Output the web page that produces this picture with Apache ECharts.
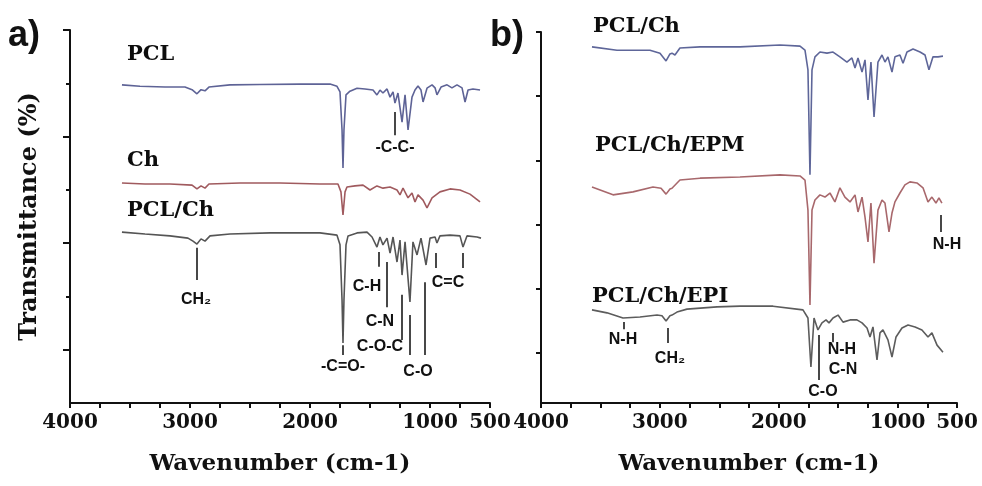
<!DOCTYPE html>
<html>
<head>
<meta charset="utf-8">
<script src="https://cdn.jsdelivr.net/npm/echarts@6/dist/echarts.min.js"></script>
<style>
  html, body { margin: 0; padding: 0; background: #fff; }
  #main { width: 982px; height: 486px; }
</style>
</head>
<body>
<div id="main"></div>
<script>
// FTIR spectra, [wavenumber (cm-1), transmittance (a.u., traces offset)]
// panel a
var pcl = [[3567,85.3],[3417,84.9],[3208,84.7],[3042,84.7],[2983,84.0],[2942,82.9],[2908,84.0],[2875,83.7],[2842,84.7],[2667,85.3],[2417,85.4],[2083,85.5],[1833,85.5],[1775,84.9],[1750,83.4],[1733,73.2],[1725,63.0],[1717,73.2],[1700,82.6],[1667,83.6],[1608,84.4],[1542,84.2],[1475,83.9],[1442,82.6],[1417,83.9],[1392,83.1],[1358,84.2],[1333,82.0],[1308,83.4],[1292,80.4],[1267,83.1],[1233,75.3],[1208,82.6],[1183,73.2],[1150,82.0],[1125,83.9],[1100,85.0],[1075,83.9],[1058,80.7],[1025,84.4],[983,85.3],[958,84.5],[942,82.6],[908,84.7],[858,85.3],[817,84.5],[775,85.3],[733,84.5],[708,80.7],[683,83.9],[642,84.2],[583,83.9]];
var ch = [[3567,59.0],[3375,58.7],[3167,58.7],[2983,58.4],[2942,57.4],[2908,58.2],[2875,57.6],[2842,58.7],[2583,59.0],[2250,59.0],[1917,58.7],[1767,58.7],[1742,56.6],[1725,50.4],[1708,56.6],[1692,57.9],[1625,58.2],[1558,58.4],[1500,57.1],[1442,58.2],[1392,57.6],[1333,57.9],[1275,57.1],[1250,55.8],[1225,57.6],[1183,55.0],[1150,56.3],[1125,53.9],[1100,55.8],[1058,54.4],[1025,52.3],[983,55.0],[917,56.6],[833,57.4],[750,57.1],[667,56.0],[583,53.9]];
var pclCh = [[3567,45.8],[3375,45.3],[3167,44.8],[3017,44.2],[2975,43.4],[2942,42.6],[2908,44.0],[2875,43.4],[2833,44.8],[2667,45.3],[2333,45.6],[1917,45.6],[1775,45.0],[1750,42.4],[1733,27.6],[1725,16.1],[1717,27.6],[1700,42.4],[1683,44.8],[1608,45.6],[1525,45.8],[1483,44.5],[1442,41.8],[1417,44.5],[1392,42.4],[1358,44.2],[1333,40.2],[1308,44.5],[1275,37.8],[1250,43.7],[1233,34.3],[1208,43.2],[1167,27.1],[1142,43.2],[1108,39.7],[1075,44.2],[1033,37.0],[1000,44.2],[958,44.5],[942,42.9],[917,44.8],[833,45.0],[750,44.8],[725,41.8],[692,44.8],[608,44.5],[575,44.2]];

// panel b
var bPclCh = [[3571,96.0],[3361,95.1],[3083,95.1],[2999,94.3],[2948,92.2],[2915,94.1],[2898,94.3],[2873,93.8],[2831,95.7],[2662,96.0],[2326,96.0],[1989,96.5],[1821,96.2],[1779,95.1],[1754,89.8],[1737,61.5],[1720,89.8],[1695,93.3],[1653,94.6],[1594,94.3],[1543,94.6],[1485,93.3],[1426,91.9],[1384,93.0],[1358,90.3],[1333,93.0],[1299,89.2],[1274,92.5],[1249,81.7],[1224,91.9],[1198,77.1],[1165,91.9],[1131,93.8],[1106,91.9],[1081,93.3],[1047,89.2],[1022,93.3],[980,93.8],[954,91.6],[921,94.6],[870,95.4],[811,94.6],[769,93.8],[736,89.8],[702,93.3],[660,93.3],[618,93.5]];
var bEpm = [[3571,58.2],[3394,56.1],[3226,56.9],[3058,58.2],[2990,57.9],[2948,56.3],[2915,57.7],[2898,57.9],[2831,60.1],[2662,60.6],[2326,60.9],[1989,61.5],[1821,61.2],[1779,60.1],[1754,52.0],[1737,26.4],[1720,52.0],[1695,54.7],[1653,56.1],[1611,55.5],[1569,56.6],[1527,54.2],[1485,58.0],[1443,55.5],[1400,54.2],[1358,56.1],[1333,51.5],[1299,55.5],[1274,50.1],[1249,43.4],[1224,53.9],[1198,37.7],[1165,52.0],[1131,54.7],[1106,53.9],[1072,46.1],[1047,51.2],[1022,54.2],[980,56.6],[938,58.8],[896,59.6],[837,59.3],[786,58.0],[744,54.2],[711,55.5],[677,53.9],[652,55.3],[627,53.9]];
var bEpi = [[3571,25.1],[3445,24.3],[3310,22.9],[3167,23.2],[3024,23.7],[2982,23.5],[2948,22.1],[2915,23.5],[2898,23.7],[2856,24.5],[2772,25.3],[2519,25.9],[2326,26.1],[2048,26.1],[1796,25.1],[1754,22.9],[1729,9.7],[1703,22.9],[1670,19.7],[1636,21.6],[1602,22.4],[1577,21.6],[1543,22.9],[1501,23.7],[1459,21.8],[1400,22.4],[1342,22.4],[1299,21.6],[1257,20.2],[1232,17.8],[1207,20.5],[1173,11.6],[1148,18.9],[1123,19.7],[1081,17.0],[1047,12.4],[1013,17.8],[963,20.2],[912,21.0],[853,20.5],[795,19.7],[744,17.8],[711,18.9],[668,15.6],[618,13.7]];

// text and peak markers: [text, wavenumber, T]  /  [wavenumber, T from, T to]
var aNames = [['PCL',3525,93.3],['Ch',3525,65.1],['PCL/Ch',3525,51.7]];
var aPeaks = [['-C-C-',1292,68.4],['CH₂',2950,27.6],['C-H',1525,31.1],['C-N',1417,21.7],['C-O-C',1417,15.0],['-C=O-',1725,9.7],['C-O',1100,8.3],['C=C',850,32.2]];
var aMarks = [[2942,41.6,33.0],[1725,15.5,12.9],[1425,40.5,36.5],[1358,37.8,25.7],[1233,29.0,16.9],[1167,23.6,12.9],[1042,32.4,12.9],[950,40.2,36.2],[725,40.2,36.2],[1292,78.0,71.8]];
var bNames = [['PCL/Ch',3563,101.6],['PCL/Ch/EPM',3546,69.5],['PCL/Ch/EPI',3571,28.8]];
var bPeaks = [['N-H',584,42.6],['N-H',3310,17.0],['CH₂',2915,12.1],['C-O',1628,3.2],['N-H',1468,14.3],['C-N',1459,8.9]];
var bMarks = [[635,50.7,46.1],[3302,21.8,19.9],[2932,20.2,16.2],[1661,18.3,6.2],[1543,18.9,16.4]];

// axis ticks
var xTickLabels = [4000, 3000, 2000, 1000, 500];
var aMajorTicks = [100/7, 300/7, 500/7, 100];
var aMinorTicks = [200/7, 400/7, 600/7];
var bTicks = [13.5, 30.8, 48.1, 65.4, 82.7, 100];

var serif = 'DejaVu Serif';
var sans = 'Liberation Sans';

function xAxis(grid) {
  return {
    type: 'value', gridIndex: grid, inverse: true, min: 500, max: 4000, interval: 250,
    name: 'Wavenumber (cm-1)', nameLocation: 'middle', nameGap: 50,
    nameTextStyle: { fontFamily: serif, fontWeight: 'bold', fontSize: 23, color: '#111' },
    axisLine: { onZero: false, lineStyle: { color: '#111', width: 2 } },
    axisTick: { length: 5, lineStyle: { color: '#111', width: 2 } },
    axisLabel: {
      margin: 10, fontFamily: serif, fontWeight: 'bold', fontSize: 20, color: '#111',
      formatter: function (v) { return xTickLabels.indexOf(v) >= 0 ? String(v) : ''; }
    },
    splitLine: { show: false }
  };
}

function yAxis(grid, ticks, len, withLine, name) {
  return {
    type: 'value', gridIndex: grid, min: 0, max: 100, position: 'left', offset: 0,
    name: name || '', nameLocation: 'middle', nameGap: 28,
    nameTextStyle: { fontFamily: serif, fontWeight: 'bold', fontSize: 24, color: '#111' },
    axisLine: { show: withLine, lineStyle: { color: '#111', width: 2 } },
    axisTick: { show: true, customValues: ticks, length: len, lineStyle: { color: '#111', width: 2 } },
    axisLabel: { show: false },
    splitLine: { show: false }
  };
}

function trace(data, color, xi, yi) {
  return {
    type: 'line', data: data, xAxisIndex: xi, yAxisIndex: yi,
    showSymbol: false, symbol: 'none', silent: true,
    lineStyle: { color: color, width: 1.6 }
  };
}

function texts(items, xi, yi, style, align) {
  return {
    type: 'scatter', xAxisIndex: xi, yAxisIndex: yi, symbolSize: 0, clip: false, silent: true,
    itemStyle: { opacity: 1 },
    data: items.map(function (d) { return { name: d[0], value: [d[1], d[2]] }; }),
    label: Object.assign({
      show: true, position: [0, 0], align: align, verticalAlign: 'middle', opacity: 1,
      formatter: function (p) { return p.name; }
    }, style)
  };
}

function marks(items, xi, yi) {
  return {
    type: 'scatter', xAxisIndex: xi, yAxisIndex: yi, data: [], silent: true,
    markLine: {
      silent: true, symbol: ['none', 'none'], animation: false,
      label: { show: false },
      lineStyle: { color: '#1a1a1a', width: 1.6, type: 'solid', opacity: 1 },
      data: items.map(function (m) { return [{ coord: [m[0], m[1]] }, { coord: [m[0], m[2]] }]; })
    }
  };
}

var nameStyle = { fontFamily: serif, fontWeight: 'bold', fontSize: 21, color: '#0d0d0d' };
var peakStyle = { fontFamily: sans + ', DejaVu Sans', fontWeight: 'bold', fontSize: 16, color: '#111' };

var chart = echarts.init(document.getElementById('main'));
chart.setOption({
  animation: false,
  backgroundColor: '#fff',
  grid: [
    { left: 70, top: 30, width: 420, height: 373 },
    { left: 541, top: 32, width: 416, height: 371 }
  ],
  xAxis: [xAxis(0), xAxis(1)],
  yAxis: [
    yAxis(0, aMajorTicks, 7, true, 'Transmittance (%)'),
    yAxis(0, aMinorTicks, 4, false),
    yAxis(1, bTicks, 5, true)
  ],
  graphic: [
    { type: 'text', left: 8, top: 18, style: { text: 'a)', font: 'bold 36px "Liberation Sans"', fill: '#111' } },
    { type: 'text', left: 490, top: 18, style: { text: 'b)', font: 'bold 36px "Liberation Sans"', fill: '#111' } }
  ],
  series: [
    trace(pcl, '#5e6396', 0, 0),
    trace(ch, '#a05a5e', 0, 0),
    trace(pclCh, '#555555', 0, 0),
    trace(bPclCh, '#5e6699', 1, 2),
    trace(bEpm, '#a8686c', 1, 2),
    trace(bEpi, '#5c5c5c', 1, 2),
    marks(aMarks, 0, 0),
    marks(bMarks, 1, 2),
    texts(aNames, 0, 0, nameStyle, 'left'),
    texts(bNames, 1, 2, nameStyle, 'left'),
    texts(aPeaks, 0, 0, peakStyle, 'center'),
    texts(bPeaks, 1, 2, peakStyle, 'center')
  ]
});
</script>
</body>
</html>
